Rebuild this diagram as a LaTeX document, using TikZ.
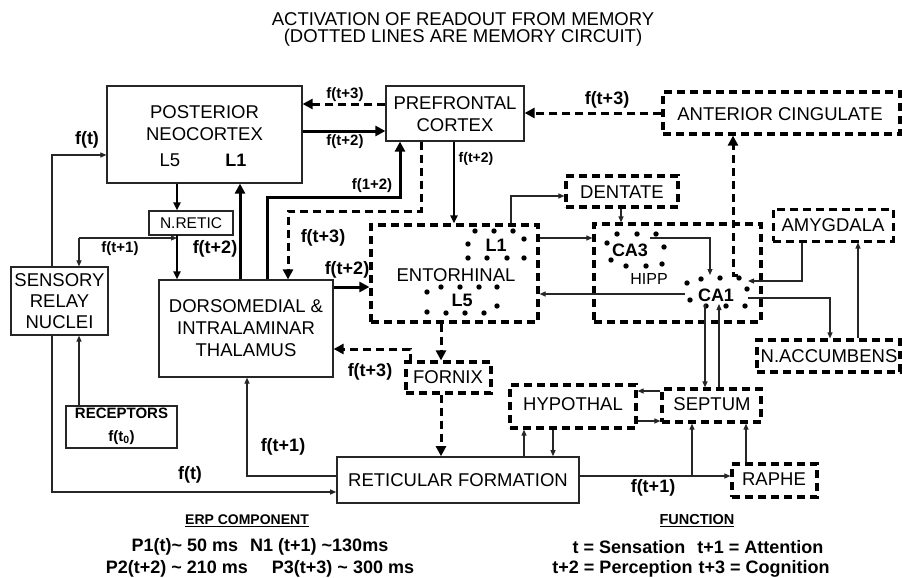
\documentclass[tikz,border=0pt]{standalone}
\usepackage{fontspec}
\setmainfont{Liberation Sans}
\usetikzlibrary{arrows.meta}
\begin{document}
\begin{tikzpicture}[x=1pt,y=-1pt,
  sbox/.style={draw=black!85,line width=1.2pt,inner sep=0pt},
  dbox/.style={draw=black,line width=3.2pt,dash pattern=on 8pt off 5pt,inner sep=0pt},
  dboxl/.style={draw=black,line width=3pt,dash pattern=on 8pt off 5pt,inner sep=0pt},
  txt/.style={inner sep=0pt,align=center,font=\fontsize{18.5}{22}\selectfont},
  txtb/.style={inner sep=0pt,align=center,font=\fontsize{18}{22}\selectfont\bfseries},
  lbl/.style={inner sep=0pt,font=\fontsize{18}{22}\selectfont\bfseries},
  lbls/.style={inner sep=0pt,font=\fontsize{15}{18}\selectfont\bfseries},
  athin/.style={draw=black!85,line width=1.1pt,-{Triangle[length=6pt,width=5pt]}},
  amed/.style={draw=black,line width=2pt,-{Triangle[length=8pt,width=7pt]}},
  athick/.style={draw=black,line width=3pt,-{Triangle[length=10pt,width=10pt]}},
  adash/.style={draw=black,line width=3pt,dash pattern=on 8pt off 5pt,-{Triangle[length=10pt,width=10pt]}},
  dot/.style={fill=black}
]
\useasboundingbox (0,0) rectangle (902,578);

% title
\node[txt,font=\fontsize{18.5}{22}\selectfont] (t1) at (463,19) {ACTIVATION OF READOUT FROM MEMORY};
\node[txt,font=\fontsize{18.5}{22}\selectfont] (t2) at (463,38) {(DOTTED LINES ARE MEMORY CIRCUIT)};

% boxes
\node[sbox,minimum width=195pt,minimum height=97pt] (post) at (204.5,134.5) {};
\node[txt] (postT) at (204.5,123) {POSTERIOR\\NEOCORTEX};
\node[txt] (postL5) at (170,160) {L5};
\node[txtb] (postL1) at (236,160) {L1};

\node[sbox,minimum width=138pt,minimum height=55pt] (pfc) at (455,113.5) {};
\node[txt] (pfcT) at (455,114.5) {PREFRONTAL\\CORTEX};

\node[dbox,minimum width=237pt,minimum height=42pt] (acing) at (781.5,113) {};
\node[txt] (acingT) at (780,114) {ANTERIOR CINGULATE};

\node[dbox,minimum width=112pt,minimum height=31pt] (dent) at (622,191.5) {};
\node[txt] (dentT) at (622,192) {DENTATE};

\node[dbox,minimum width=167pt,minimum height=97pt] (ento) at (454.5,273.5) {};
\node[txt] (entoT) at (456,275) {ENTORHINAL};
\node[txtb] (entoL1) at (496,245) {L1};
\node[txtb] (entoL5) at (462,300) {L5};

\node[dbox,minimum width=167pt,minimum height=98pt] (hipp) at (677.5,273) {};
\node[txtb] (ca3) at (630,250) {CA3};
\node[inner sep=0pt,font=\fontsize{16}{18}\selectfont] (hippT) at (649,279) {HIPP};
\node[txtb] (ca1) at (716,295) {CA1};

\node[dboxl,minimum width=120pt,minimum height=32pt] (amyg) at (833,225) {};
\node[txt] (amygT) at (833,225) {AMYGDALA};

\node[dbox,minimum width=143pt,minimum height=32pt] (nacc) at (828.5,356) {};
\node[txt] (naccT) at (829,356) {N.ACCUMBENS};

\node[dbox,minimum width=99pt,minimum height=33pt] (sept) at (711.5,405.5) {};
\node[txt] (septT) at (712,404) {SEPTUM};

\node[dbox,minimum width=126pt,minimum height=43pt] (hyp) at (573,406.5) {};
\node[txt] (hypT) at (573,404) {HYPOTHAL};

\node[sbox,line width=1.6pt,minimum width=242pt,minimum height=46pt] (ret) at (458,480) {};
\node[txt] (retT) at (458,480) {RETICULAR FORMATION};

\node[dbox,minimum width=85pt,minimum height=33pt] (raphe) at (774.5,480.5) {};
\node[txt] (rapheT) at (774,479) {RAPHE};

\node[dbox,minimum width=85pt,minimum height=31pt] (fornix) at (448.5,377.5) {};
\node[txt] (fornixT) at (448,377) {FORNIX};

\node[sbox,minimum width=174pt,minimum height=97pt] (thal) at (246,328.5) {};
\node[txt] (thalT) at (246,328) {DORSOMEDIAL \&\\INTRALAMINAR\\THALAMUS};

\node[sbox,minimum width=97pt,minimum height=68pt] (sens) at (59.5,301) {};
\node[txt,font=\fontsize{18.5}{21}\selectfont] (sensT) at (59.5,301) {SENSORY\\RELAY\\NUCLEI};

\node[sbox,minimum width=84pt,minimum height=24pt] (nret) at (191,223) {};
\node[inner sep=0pt,font=\fontsize{15.5}{18}\selectfont] (nretT) at (191,223) {N.RETIC};

\node[sbox,minimum width=111pt,minimum height=42pt] (rec) at (121.5,427) {};
\node[inner sep=0pt,align=center,font=\fontsize{15}{23}\selectfont\bfseries] (recT) at (121.5,426) {RECEPTORS\\f(t\textsubscript{0})};

% dots
\foreach \p in {(475,231),(494,231),(513,231),(524,239),(468,244),(468,258),(487,258),(507,258),(524,258),
  (441,287),(460,287),(479,287),(497,287),(427,292),(497,306),(427,312),(446,313),(465,313),(484,313),
  (617,234),(637,234),(656,234),(607,243),(664,247),(611,260),(626,266),(646,266),(662,264),
  (701,279),(720,278),(739,278),(687,283),(747,289),(690,300),(706,306),(726,306),(745,306)}
  \fill[dot] \p circle[radius=2.7pt];

% connectors top
\draw[adash] (pfc.west |- 0,104) -- (post.east |- 0,104);
\node[lbls] (l1) at (345,95) {f(t+3)};
\draw[athick] (post.east |- 0,131) -- (pfc.west |- 0,131);
\node[lbls] (l2) at (345,142) {f(t+2)};
\draw[adash] (acing.west |- 0,113) -- (pfc.east |- 0,113);
\node[lbl] (l3) at (607,100) {f(t+3)};
\draw[amed] (pfc.south -| 454,0) -- (ento.north -| 454,0);
\node[inner sep=0pt,font=\fontsize{14}{17}\selectfont\bfseries] (l4) at (476,159) {f(t+2)};

% memory circuit internal
\draw[athin] (ento.north -| 511,0) |- (dent.west |- 0,196);
\draw[athin] (dent.south -| 621,0) -- (hipp.north -| 621,0);
\draw[athin] (ento.east |- 0,238) -- (hipp.west |- 0,238);
\draw[athin] (685,294) -- (ento.east |- 0,294);
\draw[athin] (650,238) -| (710,275);
\draw[adash] (738,275) -| (acing.south -| 733,0);
\draw[athin] (amyg.south -| 802,0) |- (748,281);
\draw[athin] (748,298) -| (nacc.north -| 830,0);
\draw[athin] (nacc.north -| 858,0) -- (amyg.south -| 858,0);
\draw[athin] (705,304) -- (sept.north -| 705,0);
\draw[athin] (sept.north -| 719,0) -- (719,304);
\draw[athin] (sept.west |- 0,391) -- (hyp.east |- 0,391);
\draw[athin] (hyp.east |- 0,421) -- (sept.west |- 0,421);
\draw[athin] (ret.north -| 524,0) -- (hyp.south -| 524,0);
\draw[athin] (hyp.south -| 553,0) -- (ret.north -| 553,0);
\draw[athin] (ret.east |- 0,476) -- (raphe.west |- 0,476);
\coordinate (br) at (692,476);
\draw[athin] (br) -- (sept.south -| br);
\node[lbl] (l5) at (653,488) {f(t+1)};
\draw[athin] (raphe.north -| 746,0) -- (sept.south -| 746,0);

% fornix
\draw[adash] (ento.south -| 441,0) -- (fornix.north -| 441,0);
\draw[adash] (410,362) |- (thal.east |- 0,349);
\node[lbl] (l6) at (370,372) {f(t+3)};
\draw[adash] (fornix.south -| 441,0) -- (ret.north -| 441,0);

% thalamus region
\draw[amed] (post.south -| 177,0) -- (nret.north -| 177,0);
\draw[athin] (79,238) -- (177,238);
\draw[athin] (79,238) -- (sens.north -| 79,0);
\draw[amed] (177,235) -- (thal.north -| 177,0);
\node[lbls] (l7) at (120,249) {f(t+1)};
\draw[athick] (thal.north -| 240,0) -- (post.south -| 240,0);
\node[lbl] (l8) at (215,249) {f(t+2)};
\draw[athick] (thal.north -| 267,0) |- (400,197) -- (pfc.south -| 400,0);
\node[lbls] (l9) at (372,186) {f(1+2)};
\draw[adash] (pfc.south -| 421,0) |- (288,211) -- (thal.north -| 288,0);
\node[lbl] (l10) at (323,238) {f(t+3)};
\draw[athick] (thal.east |- 0,287) -- (ento.west |- 0,287);
\node[lbl] (l11) at (347,270) {f(t+2)};

% sensory paths
\draw[athin] (sens.north -| 52,0) |- (post.west |- 0,155);
\node[lbl] (l12) at (87,140) {f(t)};
\draw[athin] (sens.south -| 52,0) |- (ret.west |- 0,492);
\node[lbl] (l13) at (190,475) {f(t)};
\draw[athin] (rec.north -| 79,0) -- (sens.south -| 79,0);
\draw[athin] (ret.west |- 0,476) -| (thal.south -| 247,0);
\node[lbl] (l14) at (283,447) {f(t+1)};

% legend
\node[inner sep=0pt,font=\fontsize{14}{17}\selectfont\bfseries] (erp) at (247,521) {\underline{ERP COMPONENT}};
\node[lbl] (erp1) at (260,547) {P1(t)\char`~\ 50 ms\hspace{12pt}N1 (t+1) \char`~130ms};
\node[lbl] (erp2) at (260,569) {P2(t+2) \char`~\ 210 ms\hspace{24pt}P3(t+3) \char`~\ 300 ms};
\node[inner sep=0pt,font=\fontsize{14.5}{17}\selectfont\bfseries] (fun) at (697,521) {\underline{FUNCTION}};
\node[lbl] (fun1) at (698,547) {t = Sensation\hspace{12pt}t+1 = Attention};
\node[lbl] (fun2) at (691,569) {t+2 = Perception\hspace{6pt}t+3 = Cognition};
\end{tikzpicture}
\end{document}
